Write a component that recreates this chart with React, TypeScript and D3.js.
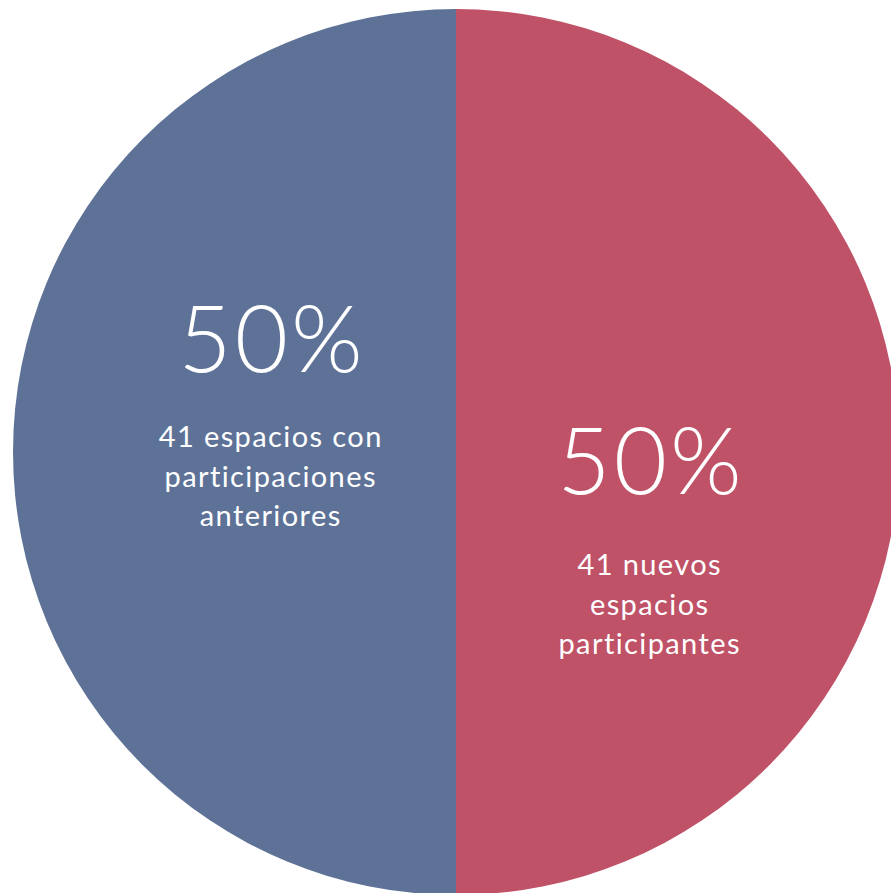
import React from "react";
import * as d3 from "d3";

const categories = ["41 espacios con participaciones anteriores", "41 nuevos espacios participantes"];
const values = [41, 41];
const percentLabels = ["50%", "50%"];
const labelLines = [
  ["41 espacios con", "participaciones", "anteriores"],
  ["41 nuevos", "espacios", "participantes"],
];
const colors = ["#5E7298", "#C05268"];

export default function App() {
  const W = 891, H = 893;
  const cx = 456, cy = 452, r = 443;
  const data = categories.map((c, i) => ({ c, v: values[i], i }));
  const pie = d3.pie<any>().value((d) => d.v).sort(null).startAngle(Math.PI * 2).endAngle(0);
  const arcs = pie(data);
  const arc = d3.arc<any>().innerRadius(0).outerRadius(r);
  const labelPos = [
    { x: 270, pctY: 372, subY: 447 },
    { x: 649, pctY: 494, subY: 575 },
  ];
  const font = "Lato, 'Open Sans', sans-serif";
  return (
    <svg width={W} height={H} style={{ position: "absolute", left: 0, top: 0 }}>
      <g transform={`translate(${cx},${cy})`}>
        {arcs.map((a, i) => (
          <path key={i} d={arc(a) as string} fill={colors[a.data.i]} />
        ))}
      </g>
      {labelPos.map((p, i) => (
        <g key={i} fill="#fff" fontFamily={font} textAnchor="middle">
          <text x={p.x + 2} y={p.pctY} fontSize={92} fontWeight={300} letterSpacing={3}>
            {percentLabels[i]}
          </text>
          {labelLines[i].map((l, j) => (
            <text key={j} x={p.x + 0.7} y={p.subY + j * 39.5} fontSize={29} letterSpacing={1.4}>
              {l}
            </text>
          ))}
        </g>
      ))}
    </svg>
  );
}
